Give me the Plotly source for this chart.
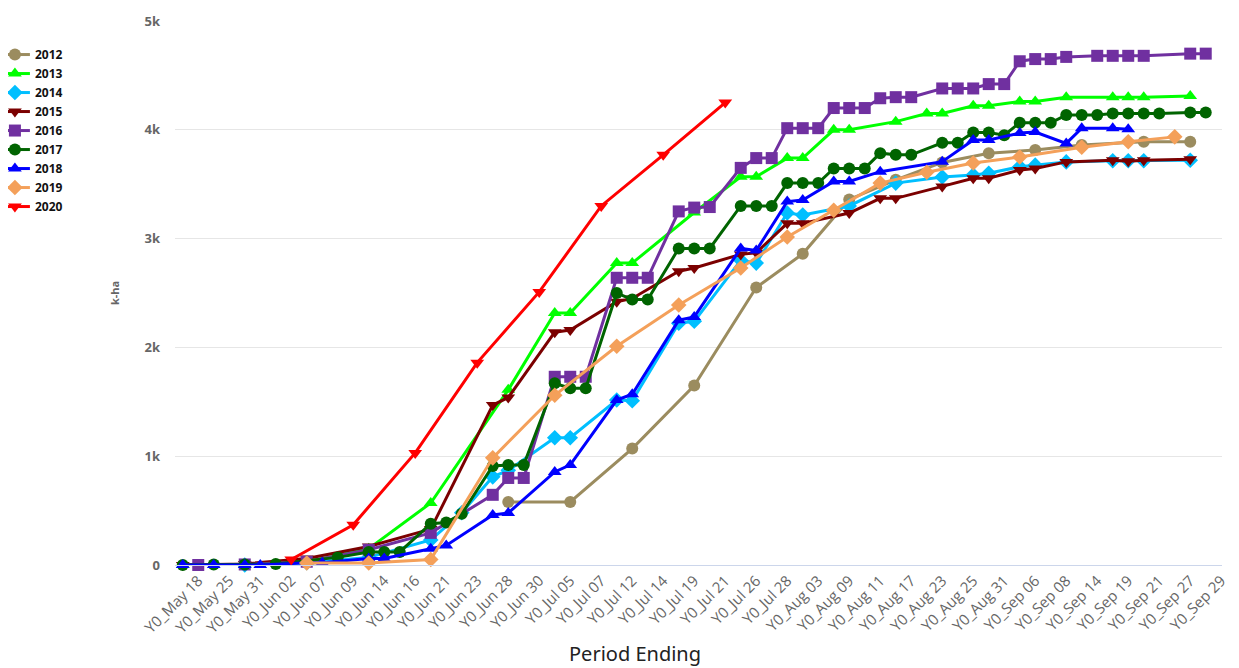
import plotly.graph_objects as go

categories = [
    "Y0_May 17", "Y0_May 18", "Y0_May 24", "Y0_May 25", "Y0_May 26", "Y0_May 31",
    "Y0_Jun 01", "Y0_Jun 02", "Y0_Jun 04", "Y0_Jun 07", "Y0_Jun 08", "Y0_Jun 09",
    "Y0_Jun 11", "Y0_Jun 14", "Y0_Jun 15", "Y0_Jun 16", "Y0_Jun 18", "Y0_Jun 21",
    "Y0_Jun 22", "Y0_Jun 23", "Y0_Jun 25", "Y0_Jun 28", "Y0_Jun 29", "Y0_Jun 30",
    "Y0_Jul 02", "Y0_Jul 05", "Y0_Jul 06", "Y0_Jul 07", "Y0_Jul 09", "Y0_Jul 12",
    "Y0_Jul 13", "Y0_Jul 14", "Y0_Jul 16", "Y0_Jul 19", "Y0_Jul 20", "Y0_Jul 21",
    "Y0_Jul 23", "Y0_Jul 26", "Y0_Jul 27", "Y0_Jul 28", "Y0_Aug 02", "Y0_Aug 03",
    "Y0_Aug 06", "Y0_Aug 09", "Y0_Aug 10", "Y0_Aug 11", "Y0_Aug 16", "Y0_Aug 17",
    "Y0_Aug 20", "Y0_Aug 23", "Y0_Aug 24", "Y0_Aug 25", "Y0_Aug 30", "Y0_Aug 31",
    "Y0_Sep 03", "Y0_Sep 06", "Y0_Sep 07", "Y0_Sep 08", "Y0_Sep 13", "Y0_Sep 14",
    "Y0_Sep 17", "Y0_Sep 19", "Y0_Sep 20", "Y0_Sep 21", "Y0_Sep 24", "Y0_Sep 27",
    "Y0_Sep 28", "Y0_Sep 29",
]
tick_labels = categories[1::2]

# per-year: category positions (index into categories) and values (k-ha)
idx_2012 = [21, 25, 29, 33, 37, 40, 43, 46, 49, 52, 55, 58, 62, 65]
val_2012 = [580, 580, 1070, 1650, 2550, 2860, 3360, 3540, 3700, 3785, 3815, 3860, 3890, 3890]

idx_2013 = [0, 4, 8, 12, 16, 21, 24, 25, 28, 29, 33, 36, 37, 39, 40, 42, 43, 46, 48, 49,
            51, 52, 54, 55, 57, 60, 61, 62, 65]
val_2013 = [0, 5, 30, 150, 570, 1610, 2316, 2316, 2775, 2775, 3240, 3569, 3569, 3740, 3740,
            4000, 4000, 4075, 4150, 4150, 4220, 4220, 4260, 4260, 4300, 4300, 4300, 4300, 4310]

idx_2014 = [4, 8, 12, 16, 18, 20, 21, 24, 25, 28, 29, 32, 33, 36, 37, 39, 40, 43, 46, 49,
            51, 52, 54, 55, 57, 60, 61, 62, 65]
val_2014 = [0, 20, 70, 230, 480, 810, 870, 1170, 1170, 1516, 1510, 2222, 2240, 2800, 2775,
            3235, 3217, 3300, 3510, 3566, 3585, 3600, 3660, 3675, 3705, 3715, 3715, 3715, 3720]

idx_2015 = [0, 4, 8, 12, 16, 20, 21, 24, 25, 28, 29, 32, 33, 36, 37, 39, 40, 43, 45, 46,
            49, 51, 52, 54, 55, 57, 60, 61, 62, 65]
val_2015 = [0, 10, 60, 170, 330, 1470, 1540, 2140, 2160, 2420, 2450, 2700, 2730, 2855, 2870,
            3140, 3140, 3235, 3370, 3370, 3480, 3555, 3555, 3630, 3645, 3705, 3720, 3710, 3720, 3730]

idx_2016 = [1, 4, 8, 12, 16, 20, 21, 22, 24, 25, 26, 28, 29, 30, 32, 33, 34, 36, 37, 38,
            39, 40, 41, 42, 43, 44, 45, 46, 47, 49, 50, 51, 52, 53, 54, 55, 56, 57,
            59, 60, 61, 62, 65, 66]
val_2016 = [0, 5, 30, 140, 295, 645, 800, 800, 1730, 1730, 1730, 2640, 2640, 2640,
            3250, 3285, 3290, 3650, 3740, 3740, 4015, 4015, 4015, 4200, 4200, 4200,
            4290, 4300, 4300, 4380, 4380, 4380, 4420, 4420, 4630, 4650, 4650, 4670,
            4680, 4680, 4680, 4680, 4700, 4700]

idx_2017 = [0, 2, 4, 6, 10, 12, 13, 14, 16, 17, 18, 20, 21, 22, 24, 25, 26, 28, 29, 30,
            32, 33, 34, 36, 37, 38, 39, 40, 41, 42, 43, 44, 45, 46, 47, 49, 50, 51, 52,
            53, 54, 55, 56, 57, 58, 59, 60, 61, 62, 63, 65, 66]
val_2017 = [0, 5, 5, 10, 70, 120, 120, 120, 380, 390, 470, 910, 920, 920, 1670, 1625, 1625,
            2500, 2440, 2440, 2910, 2910, 2910, 3300, 3300, 3300, 3510, 3510, 3510,
            3645, 3645, 3645, 3785, 3770, 3770, 3880, 3880, 3975, 3975, 3950, 4065,
            4065, 4065, 4135, 4135, 4135, 4150, 4150, 4150, 4150, 4160, 4160]

idx_2018 = [0, 2, 4, 5, 8, 9, 12, 13, 16, 17, 20, 21, 24, 25, 28, 29, 32, 33, 36, 37, 39,
            40, 42, 43, 45, 49, 51, 52, 54, 55, 57, 58, 60, 61]
val_2018 = [0, 0, 0, 0, 20, 20, 60, 60, 150, 180, 460, 478, 855, 920, 1516, 1570, 2250,
            2280, 2910, 2890, 3340, 3355, 3525, 3525, 3615, 3707, 3906, 3906, 3970, 3980,
            3875, 4015, 4015, 4005]

idx_2019 = [8, 12, 16, 20, 24, 28, 32, 36, 39, 42, 45, 48, 51, 54, 58, 61, 64]
val_2019 = [18, 18, 50, 985, 1560, 2010, 2390, 2730, 3015, 3260, 3510, 3610, 3695, 3750,
            3840, 3890, 3935]

idx_2020 = [7, 11, 15, 19, 23, 27, 31, 35]
val_2020 = [50, 370, 1030, 1860, 2510, 3300, 3770, 4250]

series = [
    ("2012", idx_2012, val_2012, "#9b8c5f", "circle"),
    ("2013", idx_2013, val_2013, "#00ff00", "triangle-up"),
    ("2014", idx_2014, val_2014, "#00bfff", "diamond"),
    ("2015", idx_2015, val_2015, "#7b0000", "triangle-down"),
    ("2016", idx_2016, val_2016, "#7030a0", "square"),
    ("2017", idx_2017, val_2017, "#006400", "circle"),
    ("2018", idx_2018, val_2018, "#0000ff", "triangle-up"),
    ("2019", idx_2019, val_2019, "#f4a05a", "diamond"),
    ("2020", idx_2020, val_2020, "#ff0000", "triangle-down"),
]

fig = go.Figure()
for name, idx, vals, color, sym in series:
    fig.add_trace(go.Scatter(
        x=[categories[i] for i in idx], y=vals, name=name, mode="lines+markers",
        line=dict(color=color, width=3),
        marker=dict(color=color, symbol=sym, size=12),
        cliponaxis=False,
    ))

# page body has an 8px margin; figure is sized/offset to compensate
fig.update_layout(
    width=1231, height=660,
    margin=dict(l=167, r=17, t=13, b=103, autoexpand=False),
    paper_bgcolor="white", plot_bgcolor="white",
    font=dict(family="Open Sans, DejaVu Sans, sans-serif", color="#666666"),
    showlegend=True,
    legend=dict(
        x=-0.172, y=0.965, xanchor="left", yanchor="top",
        font=dict(size=12, color="#111111", weight="bold"),
        bgcolor="rgba(0,0,0,0)", itemwidth=30, tracegroupgap=0,
    ),
    xaxis=dict(
        type="category", categoryorder="array", categoryarray=categories,
        range=[-0.5, 67.05], tickmode="array", tickvals=tick_labels,
        tickangle=-45, tickfont=dict(size=15, color="#666666"),
        showgrid=False, showline=True, linecolor="#ccd6eb", linewidth=1,
        ticks="", zeroline=False, automargin=False,
    ),
    yaxis=dict(
        range=[0, 5000], tickvals=[0, 1000, 2000, 3000, 4000, 5000],
        ticktext=["0", "1k", "2k", "3k", "4k", "5k"],
        tickfont=dict(size=13, color="#666666", weight="bold"),
        showgrid=True, gridcolor="#e6e6e6", gridwidth=1, zeroline=False,
        ticklabelstandoff=14, automargin=False,
        title=dict(text="k-ha", font=dict(size=11, color="#666666", weight="bold"), standoff=22),
    ),
    annotations=[dict(
        text="Period Ending", xref="paper", yref="paper", x=0.439, y=-0.163,
        xanchor="center", yanchor="middle", showarrow=False,
        font=dict(family="Noto Sans, Open Sans, sans-serif", size=20, color="#222222"),
    )],
)

fig.write_html("out.html")
